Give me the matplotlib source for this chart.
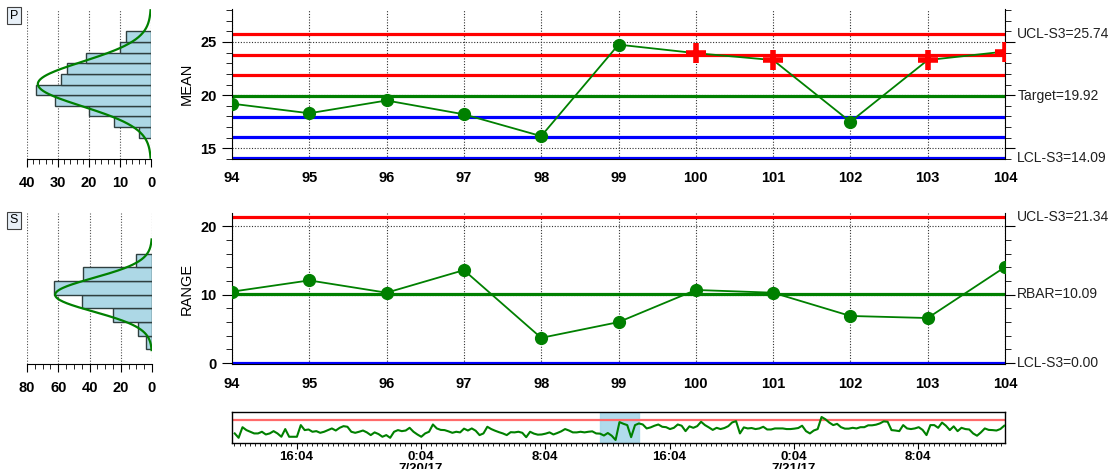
import matplotlib
matplotlib.use('Agg')
import matplotlib.pyplot as plt
import matplotlib.dates as mdates
import numpy as np
import pandas as pd
from matplotlib.ticker import MultipleLocator, FixedLocator
from matplotlib.transforms import blended_transform_factory

plt.rcParams['font.family'] = ['Liberation Sans', 'DejaVu Sans']

# --- dane wykresu ---
samples = list(range(94, 105))
mean_vals = [19.2, 18.3, 19.5, 18.2, 16.15, 24.75, 23.95, 23.3, 17.5, 23.3, 24.1]
mean_alarm = [False, False, False, False, False, False, True, True, False, True, True]
range_vals = [10.45, 12.1, 10.3, 13.6, 3.7, 6.0, 10.7, 10.3, 6.9, 6.6, 14.05]

mean_ucl, mean_target, mean_lcl = 25.74, 19.92, 14.09
mean_red_lines = [25.74, 23.80, 21.86]
mean_blue_lines = [17.98, 16.03, 14.09]
range_ucl, range_bar, range_lcl = 21.34, 10.09, 0.00

# histogram sredniej (przedzialy co 1)
p_bin_edges = [16, 17, 18, 19, 20, 21, 22, 23, 24, 25]
p_counts = [4, 12, 20, 31, 37, 29, 27, 21, 10, 8]
p_fit = (21.05, 2.1, 36.5)  # srednia, sigma, wysokosc krzywej
# histogram rozstepu (przedzialy co 2)
s_bin_edges = [2, 4, 6, 8, 10, 12, 14]
s_counts = [4, 9, 25, 45, 63, 44, 10]
s_fit = (10.0, 2.45, 62.0)

# pasek nawigacji - srednie w czasie
nav_before = [19.3, 17.2, 22.3, 20.9, 20.1, 19.3, 19.3, 20.1, 18.8, 19.3,
              20.4, 19.3, 17.7, 21.4, 17.7, 17.7, 17.7, 23.3, 20.9, 21.2,
              20.1, 20.4, 19.6, 20.1, 20.9, 21.7, 20.7, 22.0, 22.8, 22.5,
              20.1, 19.6, 20.1, 20.7, 19.8, 18.5, 19.8, 19.0, 17.7, 18.5,
              17.2, 20.1, 20.9, 20.4, 20.7, 22.0, 20.1, 18.8, 17.7, 19.3,
              20.1, 23.6, 21.7, 21.0, 20.9, 20.3, 19.6, 20.1, 19.8, 21.6,
              20.7, 21.7, 20.6, 18.5, 19.3, 22.5, 21.4, 20.6, 19.9, 19.3,
              18.5, 19.9, 19.8, 20.1, 19.6, 17.5, 20.1, 19.2, 18.7, 18.8,
              19.2, 19.8, 18.8, 19.5, 20.3, 21.4, 20.7, 19.8, 19.8, 20.1,
              19.8, 20.1, 20.3, 19.3]
nav_after = [23.6, 21.7, 22.2, 23.0, 23.6, 22.5, 22.3, 21.4, 22.0, 23.6,
             23.0, 20.4, 22.7, 22.0, 22.8, 24.9, 23.3, 22.2, 21.0, 22.0,
             21.4, 21.9, 22.8, 24.6, 25.2, 19.3, 22.2, 21.7, 21.9, 21.4,
             21.7, 22.5, 21.2, 21.2, 21.7, 21.7, 21.7, 21.4, 21.4, 21.6,
             21.9, 23.0, 20.4, 19.3, 20.7, 21.4, 27.2, 26.1, 24.5, 23.3,
             23.9, 22.3, 21.6, 21.6, 22.0, 21.7, 22.3, 22.3, 23.2, 23.2,
             23.5, 24.1, 25.1, 24.9, 20.9, 20.7, 20.4, 23.3, 21.7, 21.4,
             21.7, 22.3, 21.0, 18.5, 23.3, 23.3, 22.0, 24.5, 23.0, 20.9,
             22.7, 20.4, 22.0, 21.4, 21.2, 19.3, 18.2, 19.8, 21.7, 21.0,
             20.9, 20.7, 21.4, 23.0]
nav_vals = nav_before + mean_vals + nav_after
nav_times = pd.date_range('2017-07-19 12:05:30', periods=len(nav_vals), freq='15min')
nav_tick_times = pd.to_datetime(['2017-07-19 16:04', '2017-07-20 00:04', '2017-07-20 08:04',
                                 '2017-07-20 16:04', '2017-07-21 00:04', '2017-07-21 08:04'])
nav_tick_labels = ['16:04', '0:04\n7/20/17', '8:04', '16:04', '0:04\n7/21/17', '8:04']

W, H = 1113, 469
fig = plt.figure(figsize=(W / 100, H / 100), dpi=100)


def px_axes(x0, y0, x1, y1):
    return fig.add_axes([x0 / W, 1 - y1 / H, (x1 - x0) / W, (y1 - y0) / H])


GREEN = '#008000'


def control_chart(ax, vals, ylim, major, minor, ylabel, labels):
    ax.set_xlim(samples[0], samples[-1])
    ax.set_ylim(*ylim)
    ax.yaxis.set_major_locator(MultipleLocator(major))
    ax.yaxis.set_minor_locator(MultipleLocator(minor))
    ax.set_xticks(samples)
    ax.set_xticklabels([str(s) for s in samples], fontweight='bold', fontsize=10.5)
    ax.grid(True, which='major', ls=(0, (1, 1.5)), lw=0.8, color='#303030', zorder=1)
    ax.spines['top'].set_visible(False)
    ax.tick_params(axis='x', length=0, pad=9)
    ax.tick_params(axis='y', which='both', left=True, right=True, direction='out')
    ax.tick_params(axis='y', which='major', length=7, pad=4)
    ax.tick_params(axis='y', which='minor', length=4.5)
    for t in ax.get_yticklabels():
        t.set_fontweight('bold')
        t.set_fontsize(10.5)
    tr = blended_transform_factory(ax.transAxes, ax.transData)
    for val, txt in labels:
        ax.text(1.016, val, txt, transform=tr, va='center', ha='left', fontsize=10, color='#202020')
    ax.plot(samples, vals, color=GREEN, lw=1.3, zorder=4)
    p = ax.get_position()
    fig.text(187 / W, (p.y0 + p.y1) / 2, ylabel, rotation=90, ha='center', va='center', fontsize=10.5)


# --- wykres sredniej ---
ax_m = px_axes(232, 9, 1005, 159)
for v in mean_red_lines:
    ax_m.axhline(v, color='red', lw=2.3, zorder=2)
ax_m.axhline(mean_target, color=GREEN, lw=2.3, zorder=2)
for v in mean_blue_lines:
    ax_m.axhline(v, color='blue', lw=2.3, zorder=2)
control_chart(ax_m, mean_vals, (14.0, 28.1), 5, 1, 'MEAN',
              [(mean_ucl, 'UCL-S3=%.2f' % mean_ucl), (mean_target, 'Target=%.2f' % mean_target),
               (mean_lcl, 'LCL-S3=%.2f' % mean_lcl)])
ok = [(s, v) for s, v, a in zip(samples, mean_vals, mean_alarm) if not a]
bad = [(s, v) for s, v, a in zip(samples, mean_vals, mean_alarm) if a]
ax_m.plot([s for s, v in ok], [v for s, v in ok], 'o', color=GREEN, ms=8.5, zorder=5)
ax_m.plot([s for s, v in bad], [v for s, v in bad], '+', color='red', ms=15, mew=4, zorder=5)

# --- wykres rozstepu ---
ax_r = px_axes(232, 213, 1005, 364)
ax_r.axhline(range_ucl, color='red', lw=2.3, zorder=2)
ax_r.axhline(range_bar, color=GREEN, lw=2.3, zorder=2)
ax_r.axhline(range_lcl, color='blue', lw=2.3, zorder=2)
control_chart(ax_r, range_vals, (-0.12, 21.95), 10, 2, 'RANGE',
              [(range_ucl, 'UCL-S3=%.2f' % range_ucl), (range_bar, 'RBAR=%.2f' % range_bar),
               (range_lcl, 'LCL-S3=%.2f' % range_lcl)])
ax_r.plot(samples, range_vals, 'o', color=GREEN, ms=8.5, zorder=5)


# --- histogramy ---
def hist_panel(ax, edges, counts, width, fit, xmax, major, minor, ylim, tag):
    ax.barh(edges, counts, height=width, align='edge', color='#add8e6',
            edgecolor='#2f3f3f', lw=1, zorder=2)
    mu, sd, peak = fit
    yy = np.linspace(mu - 3.3 * sd, mu + 3.3 * sd, 200)
    ax.plot(peak * np.exp(-0.5 * ((yy - mu) / sd) ** 2), yy, color=GREEN, lw=1.6, zorder=3)
    ax.set_xlim(xmax, 0)
    ax.set_ylim(*ylim)
    ax.xaxis.set_major_locator(MultipleLocator(major))
    ax.xaxis.set_minor_locator(MultipleLocator(minor))
    ax.grid(True, axis='x', which='major', ls=(0, (1, 1.5)), lw=0.8, color='#505050', zorder=1)
    for s in ['top', 'left', 'right']:
        ax.spines[s].set_visible(False)
    ax.set_yticks([])
    ax.tick_params(axis='x', which='major', length=6, pad=6)
    ax.tick_params(axis='x', which='minor', length=3.5)
    for t in ax.get_xticklabels():
        t.set_fontweight('bold')
        t.set_fontsize(10.5)
    p = ax.get_position()
    fig.text(14 / W, p.y1 - 7 / H, tag, ha='center', va='center', fontsize=9,
             bbox=dict(boxstyle='square,pad=0.2', fc='#e8f0f8', ec='#404040', lw=0.8))


ax_hp = px_axes(27, 9, 151, 159)
hist_panel(ax_hp, p_bin_edges, p_counts, 1, p_fit, 40, 10, 2, (14.0, 28.1), 'P')
ax_hs = px_axes(27, 213, 152, 364)
hist_panel(ax_hs, s_bin_edges, s_counts, 2, s_fit, 80, 20, 5, (-0.12, 21.95), 'S')

# --- pasek nawigacji ---
ax_n = px_axes(232, 412, 1005, 443)
step = pd.Timedelta(minutes=15)
ax_n.axvspan(nav_times[94], nav_times[104], color='#a8d8ea', alpha=0.9, zorder=1)
ax_n.axhline(mean_ucl, color='#ff6a6a', lw=1.6, zorder=2)
ax_n.plot(nav_times, nav_vals, color=GREEN, lw=1.5, zorder=3)
ax_n.set_xlim(nav_times[0] - 0.7 * step, nav_times[0] + 198.2 * step)
ax_n.set_ylim(14.7, 29.6)
ax_n.set_yticks([])
ax_n.set_xticks(nav_tick_times)
ax_n.set_xticklabels(nav_tick_labels, fontweight='bold', fontsize=9.5, linespacing=0.95)
ax_n.xaxis.set_minor_locator(mdates.MinuteLocator(byminute=[4, 24, 44]))
ax_n.tick_params(axis='x', which='major', length=4, pad=2)
ax_n.tick_params(axis='x', which='minor', length=2.5)
for s in ax_n.spines.values():
    s.set_linewidth(1.0)

fig.savefig('out.png', dpi=100)
